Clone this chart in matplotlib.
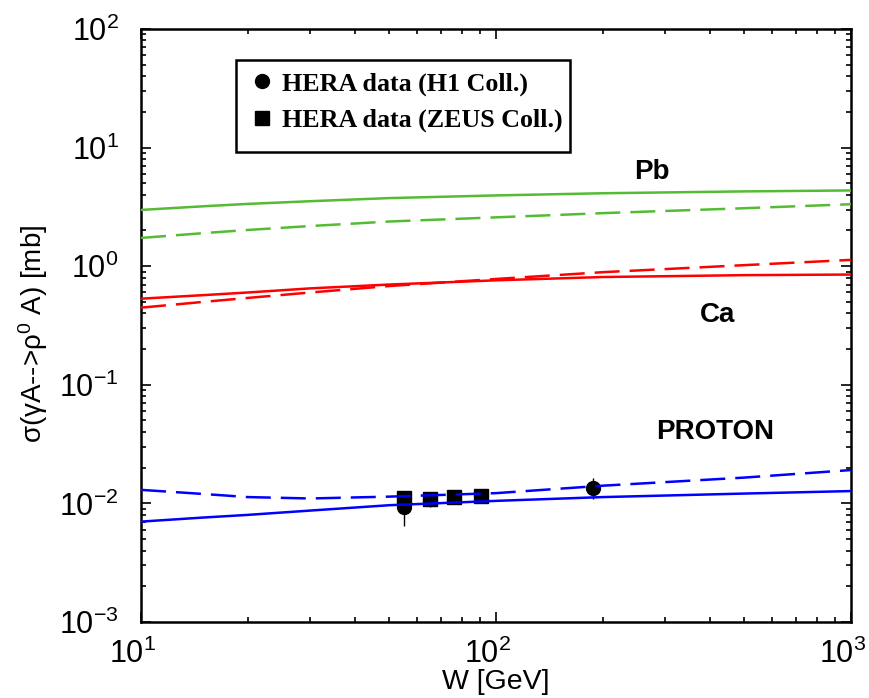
import matplotlib
matplotlib.use("Agg")
import matplotlib.pyplot as plt
import matplotlib.transforms as mtransforms
from matplotlib.lines import Line2D
from matplotlib.patches import Rectangle
import numpy as np

plt.rcParams['font.family'] = ['Liberation Sans', 'DejaVu Sans']
plt.rcParams['mathtext.fontset'] = 'custom'
plt.rcParams['mathtext.rm'] = 'Liberation Sans'
plt.rcParams['mathtext.it'] = 'Liberation Sans:italic'
plt.rcParams['mathtext.bf'] = 'Liberation Sans:bold'

# ---- data ----
W_curve = [10, 15, 20, 30, 50, 100, 200, 500, 1000]
pb_solid = [2.98, 3.20, 3.35, 3.53, 3.75, 3.95, 4.12, 4.27, 4.35]
pb_dashed = [1.73, 1.90, 2.02, 2.18, 2.38, 2.58, 2.80, 3.08, 3.33]
ca_solid = [0.532, 0.570, 0.600, 0.650, 0.700, 0.760, 0.810, 0.840, 0.850]
ca_dashed = [0.447, 0.500, 0.540, 0.600, 0.680, 0.780, 0.890, 1.020, 1.130]
p_solid = [0.00702, 0.00760, 0.00800, 0.00870, 0.00965, 0.0105, 0.0113, 0.0121, 0.0127]
p_dashed = [0.0130, 0.0120, 0.0113, 0.0110, 0.0114, 0.0122, 0.0141, 0.0165, 0.0191]

h1_W = [55, 187]
h1_sigma = [0.0094, 0.01355]
h1_err = [0.0030, 0.0027]

zeus_W = [55, 65, 76, 91]
zeus_sigma = [0.0110, 0.0108, 0.0113, 0.0115]
zeus_err = [0.0013, 0.0015, 0.0013, 0.0013]

curve_labels = ['Pb', 'Ca', 'PROTON']
curve_label_W = [275, 420, 414]
curve_label_sigma = [6.2, 0.39, 0.0400]

green = '#55bb33'
red = '#ff0000'
blue = '#0000ff'

fig = plt.figure(figsize=(8.69, 6.98), dpi=100)
ax = fig.add_axes([0.1623, 0.1089, 0.8170, 0.8496])

lw = 1.8
dash = (10, 4)
ax.plot(W_curve, pb_solid, color=green, lw=lw, zorder=3)
ax.plot(W_curve, pb_dashed, color=green, lw=lw, dashes=dash, zorder=3)
ax.plot(W_curve, ca_solid, color=red, lw=lw, zorder=3)
ax.plot(W_curve, ca_dashed, color=red, lw=lw, dashes=dash, zorder=3)
ax.plot(W_curve, p_solid, color=blue, lw=lw, zorder=3)
ax.plot(W_curve, p_dashed, color=blue, lw=lw, dashes=dash, zorder=3)

ax.errorbar(zeus_W, zeus_sigma, yerr=zeus_err, fmt='s', color='black',
            ms=9.5, elinewidth=1.0, capsize=0, zorder=2)
ax.errorbar(h1_W, h1_sigma, yerr=h1_err, fmt='o', color='black',
            ms=10, elinewidth=1.0, capsize=0, zorder=2)

ax.set_xscale('log')
ax.set_yscale('log')
ax.set_xlim(10, 1000)
ax.set_ylim(1e-3, 1e2)

for s in ax.spines.values():
    s.set_linewidth(1.8)

ax.tick_params(which='both', direction='in', top=True, right=True, width=1.2)
ax.tick_params(which='major', length=7)
ax.tick_params(which='minor', length=3.5)
ax.tick_params(axis='y', which='major', labelsize=22, pad=16)
ax.tick_params(axis='x', which='major', labelsize=22, pad=12)

# shift x tick labels slightly left, like the reference
offset = mtransforms.ScaledTranslation(-6 / 72, 0, fig.dpi_scale_trans)
for lab in ax.get_xticklabels():
    lab.set_transform(lab.get_transform() + offset)

ax.set_xlabel('W [GeV]', fontsize=20.5)
ax.xaxis.set_label_coords(0.5, -0.079)
ax.set_ylabel(r'σ(γA-->ρ$^0$ A) [mb]', fontsize=20)
ax.yaxis.set_label_coords(-0.128, 0.486)

for t, xw, ys in zip(curve_labels, curve_label_W, curve_label_sigma):
    ax.text(xw, ys, t, fontsize=20, fontweight='bold', ha='center', va='center')

# legend frame (box is taller than the two entries, as in the reference)
ax.add_patch(Rectangle((0.1338, 0.7926), 0.604 - 0.1338, 0.9477 - 0.7926,
                       transform=ax.transAxes, facecolor='white', edgecolor='black',
                       lw=1.8, zorder=4))
handles = [Line2D([], [], ls='none', marker='o', color='black', ms=10),
           Line2D([], [], ls='none', marker='s', color='black', ms=9.5)]
labels = ['HERA data (H1 Coll.)', 'HERA data (ZEUS Coll.)']
leg = ax.legend(handles, labels, loc='upper left', bbox_to_anchor=(0.134, 0.944),
                frameon=False,
                prop={'family': 'Liberation Serif', 'weight': 'bold', 'size': 18.7},
                handlelength=1.23, handletextpad=0.15,
                labelspacing=0.5, borderpad=0.38, borderaxespad=0)
leg.set_zorder(5)

fig.savefig('out.png', dpi=100)
